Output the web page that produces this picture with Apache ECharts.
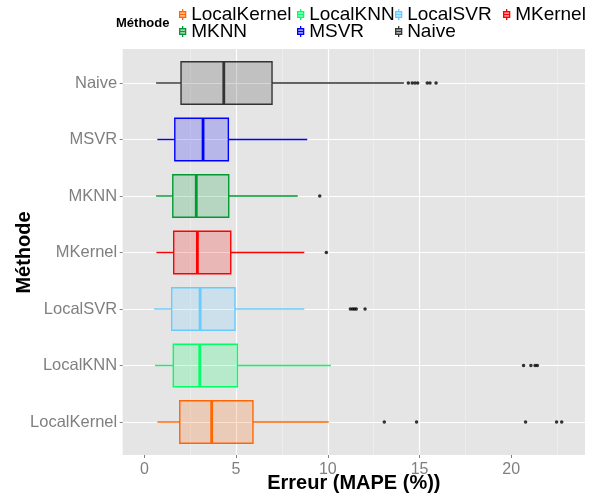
<!DOCTYPE html>
<html><head><meta charset="utf-8">
<script src="https://cdn.jsdelivr.net/npm/echarts@6/dist/echarts.min.js"></script>
<style>html,body{margin:0;padding:0;background:#fff}#c{width:593px;height:497px}</style>
</head><body><div id="c"></div>
<script>
// ---- data ----
const methods = ['LocalKernel', 'LocalKNN', 'LocalSVR', 'MKernel', 'MKNN', 'MSVR', 'Naive'];
const whiskerLow  = [0.71, 0.58, 0.53, 0.66, 0.64, 0.71, 0.64];
const q1          = [1.93, 1.58, 1.49, 1.60, 1.55, 1.66, 2.00];
const median      = [3.67, 3.02, 3.04, 2.89, 2.83, 3.20, 4.33];
const q3          = [5.92, 5.07, 4.94, 4.71, 4.60, 4.58, 6.96];
const whiskerHigh = [10.05, 10.17, 8.72, 8.72, 8.36, 8.88, 14.15];
const outliers = [
  [13.08, 14.84, 20.78, 22.47, 22.75],
  [20.67, 21.07, 21.30, 21.42],
  [11.23, 11.35, 11.45, 11.55, 12.03],
  [9.92],
  [9.56],
  [],
  [14.39, 14.60, 14.75, 14.90, 15.42, 15.57, 15.90]
];
const xTicks = [0, 5, 10, 15, 20];
const xMin = -1.18, xMax = 24.02;

// ---- styles ----
const colors = ['#FF6600', '#00FF66', '#66CCFF', '#FF0000', '#009933', '#0000FF', '#333333'];
const FONT = 'Liberation Sans, Arial, Helvetica, sans-serif';
function rgba(hex, a) {
  const n = parseInt(hex.slice(1), 16);
  return 'rgba(' + ((n >> 16) & 255) + ',' + ((n >> 8) & 255) + ',' + (n & 255) + ',' + a + ')';
}
const LW = 1.4;

const boxSeries = methods.map((m, i) => ({
  type: 'custom',
  name: m,
  xAxisIndex: 1, yAxisIndex: 1,
  itemStyle: { color: colors[i] },
  encode: { x: [1, 2, 3, 4, 5], y: 0 },
  data: [[i, whiskerLow[i], q1[i], median[i], q3[i], whiskerHigh[i]]],
  renderItem: function (params, api) {
    const c = api.value(0);
    const pLow = api.coord([api.value(1), c]);
    const pQ1 = api.coord([api.value(2), c]);
    const pMed = api.coord([api.value(3), c]);
    const pQ3 = api.coord([api.value(4), c]);
    const pHigh = api.coord([api.value(5), c]);
    const band = Math.abs(api.coord([0, 0])[1] - api.coord([0, 1])[1]);
    const h = band * 0.75;
    const y = pLow[1];
    const col = colors[i];
    return {
      type: 'group',
      children: [
        { type: 'line', shape: { x1: pLow[0], y1: y, x2: pQ1[0], y2: y }, style: { stroke: col, lineWidth: LW } },
        { type: 'line', shape: { x1: pQ3[0], y1: y, x2: pHigh[0], y2: y }, style: { stroke: col, lineWidth: LW } },
        { type: 'rect', shape: { x: pQ1[0], y: y - h / 2, width: pQ3[0] - pQ1[0], height: h },
          style: { fill: rgba(col, 0.2), stroke: col, lineWidth: LW } },
        { type: 'line', shape: { x1: pMed[0], y1: y - h / 2, x2: pMed[0], y2: y + h / 2 },
          style: { stroke: col, lineWidth: LW * 2 } }
      ]
    };
  }
}));

const outlierData = [];
outliers.forEach((arr, i) => arr.forEach(v => outlierData.push([v, i])));

const iconPath = 'path://M3.5,0L3.5,2.75M0.5,2.75L6.5,2.75L6.5,8.25L0.5,8.25ZM0.5,5.5L6.5,5.5M3.5,8.25L3.5,11';
const legendPos = [[179, 5], [297, 5], [395, 5], [503, 5], [179, 22], [297, 22], [395, 22]];
const legends = methods.map((m, i) => ({
  left: legendPos[i][0], top: legendPos[i][1], padding: 0,
  orient: 'horizontal', selectedMode: false,
  itemWidth: 7, itemHeight: 11,
  textStyle: { fontSize: 19, color: '#000', fontFamily: FONT, lineHeight: 19 },
  data: [{ name: m, icon: iconPath,
           itemStyle: { color: rgba(colors[i], 0.2), borderColor: colors[i], borderWidth: 1.3 } }]
}));

const chart = echarts.init(document.getElementById('c'), null, { renderer: 'canvas' });
chart.setOption({
  backgroundColor: '#ffffff',
  animation: false,
  textStyle: { fontFamily: FONT },
  title: { text: 'Méthode', left: 116, top: 17, padding: 0,
           textStyle: { fontSize: 13, fontWeight: 'bold', color: '#000', fontFamily: FONT } },
  legend: legends,
  grid: [
    { left: 122.7, top: 49, width: 462.3, height: 406, show: true, backgroundColor: '#E5E5E5',
      borderWidth: 0, outerBoundsMode: 'none', containLabel: false },
    { left: 122.7, top: 83, width: 462.3, height: 339, outerBoundsMode: 'none', containLabel: false }
  ],
  xAxis: [
    { gridIndex: 0, type: 'value', min: xMin, max: xMax, splitNumber: 5, minInterval: 5, maxInterval: 5,
      axisLine: { show: false, onZero: false },
      axisTick: { show: true, length: 3, customValues: xTicks, lineStyle: { color: '#7f7f7f', width: 1 } },
      axisLabel: { customValues: xTicks, color: '#7f7f7f', fontSize: 16, margin: 7, fontFamily: FONT },
      splitLine: { show: true, showMinLine: false, showMaxLine: false, lineStyle: { color: '#ffffff', width: 1.2 } },
      minorTick: { show: false, splitNumber: 2 },
      minorSplitLine: { show: true, lineStyle: { color: '#F2F2F2', width: 0.6 } },
      name: 'Erreur (MAPE (%))', nameLocation: 'middle', nameGap: 18, nameMoveOverlap: false,
      nameTextStyle: { fontSize: 20, fontWeight: 'bold', color: '#000', fontFamily: FONT } },
    { gridIndex: 1, type: 'value', min: xMin, max: xMax, show: false, axisLine: { onZero: false } }
  ],
  yAxis: [
    { gridIndex: 0, type: 'value', min: 0, max: 1, show: false, axisLine: { onZero: false } },
    { gridIndex: 1, type: 'category', data: methods, boundaryGap: false,
      axisLine: { show: false, onZero: false },
      axisTick: { show: true, length: 3, interval: 0, lineStyle: { color: '#7f7f7f', width: 1 } },
      axisLabel: { interval: 0, color: '#7f7f7f', fontSize: 16.5, margin: 5.5, fontFamily: FONT },
      splitLine: { show: true, interval: 0, lineStyle: { color: '#ffffff', width: 1.2 } },
      name: 'Méthode', nameLocation: 'middle', nameGap: 88, nameRotate: 90, nameMoveOverlap: false,
      nameTextStyle: { fontSize: 20, fontWeight: 'bold', color: '#000', fontFamily: FONT } }
  ],
  series: boxSeries.concat([{
    type: 'scatter', name: 'outliers', xAxisIndex: 1, yAxisIndex: 1,
    symbol: 'circle', symbolSize: 3.5, itemStyle: { color: '#000' },
    data: outlierData, z: 5
  }])
});
</script></body></html>
